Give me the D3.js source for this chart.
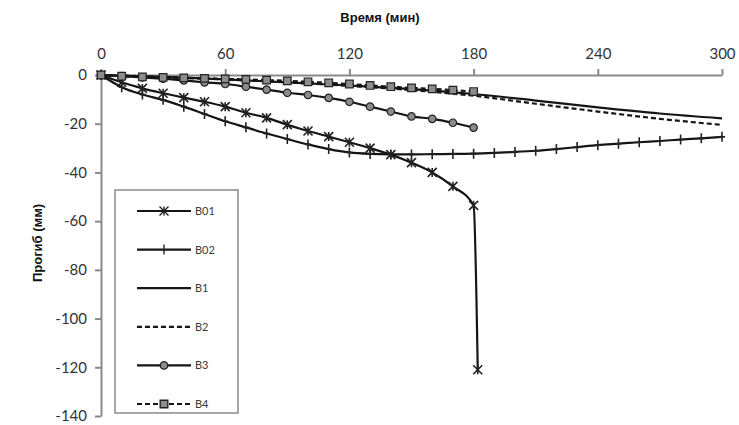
<!DOCTYPE html>
<html>
<head>
<meta charset="utf-8">
<style>
    body { margin: 0; background: #fff; }
    .tick text { font-family: Lato, "Open Sans", sans-serif; font-size: 15px; fill: #333; }
    .axis path, .axis line { stroke: #8a8a8a; stroke-width: 2; }
    .title { font-family: "Liberation Sans", Arial, sans-serif; font-size: 13px; font-weight: bold; fill: #111; }
    .legend text { font-family: Lato, "Open Sans", sans-serif; font-size: 11px; fill: #3a3a3a; }
</style>
</head>
<body>
<svg width="739" height="425"></svg>
<script src="https://d3js.org/d3.v7.min.js"></script>
<script>
// time steps (min)
var t10 = d3.range(0, 190, 10);               // 0..180
var t10long = d3.range(0, 310, 10);           // 0..300
var t30 = d3.range(0, 310, 30);               // 0..300

var xTicks = [0, 60, 120, 180, 240, 300];
var yTicks = [0, -20, -40, -60, -80, -100, -120, -140];

// series values (mm)
var b01Time = t10.concat([182]);
var b01 = [0, -3, -5.5, -7.5, -9.3, -11, -13, -15.5, -17.6, -20.4, -23, -25.3, -27.6, -30, -32.7, -36, -40, -45.7, -53.5, -121];
var b02 = [0, -5, -8, -10.2, -13, -16, -19, -21.5, -24, -26.3, -28.5, -30.4, -31.8, -32.4, -32.6, -32.6, -32.5, -32.4, -32.3,
           -32, -31.6, -31.1, -30.4, -29.6, -28.8, -28.2, -27.6, -27.1, -26.5, -26, -25.4];
var b1 = [0, -0.8, -1.8, -3, -4.3, -5.8, -7.8, -10.5, -13.3, -15.8, -17.8];
var b2 = [0, -0.8, -1.8, -3, -4.5, -6.2, -8.5, -11.8, -15, -18, -20.5];
var b3 = [0, -0.5, -1, -1.5, -2.2, -3, -3.7, -4.8, -6, -7.3, -8.2, -9.4, -11, -13, -15, -17, -18, -19.6, -21.6];
var b4 = [0, -0.5, -0.8, -1, -1.2, -1.4, -1.6, -1.8, -2.1, -2.4, -2.8, -3.2, -3.7, -4.3, -4.8, -5.3, -5.7, -6.2, -6.8];

var svg = d3.select('svg'),
    margin = { top: 75, left: 101 },
    width = 621,
    height = 341;

var x = d3.scaleLinear().domain([0, 300]).range([0, width]);
var y = d3.scaleLinear().domain([0, -140]).range([0, height]);

var g = svg.append('g')
    .attr('transform', 'translate(' + margin.left + ',' + margin.top + ')');

g.append('g')
    .attr('class', 'axis')
    .call(d3.axisTop(x).tickValues(xTicks).tickSize(6).tickSizeOuter(0).tickPadding(10));

g.append('g')
    .attr('class', 'axis')
    .call(d3.axisLeft(y).tickValues(yTicks).tickSize(6).tickSizeOuter(0).tickPadding(8)
        .tickFormat(function (d) { return String(d); }));   // plain hyphen minus

svg.append('text')
    .attr('class', 'title')
    .attr('x', 380).attr('y', 22)
    .attr('text-anchor', 'middle')
    .text('Время (мин)');

svg.append('text')
    .attr('class', 'title')
    .attr('transform', 'translate(42,243) rotate(-90)')
    .attr('text-anchor', 'middle')
    .text('Прогиб (мм)');

// marker shapes
function markerPath(type, s) {
    if (type === 'star') {
        return 'M' + (-s) + ',' + (-s) + 'L' + s + ',' + s + 'M' + (-s) + ',' + s + 'L' + s + ',' + (-s) +
            'M0,' + (-s) + 'L0,' + s;
    }
    if (type === 'plus') {
        return 'M0,' + (-s) + 'L0,' + s + 'M' + (-s * 0.6) + ',0L' + (s * 0.6) + ',0';
    }
    if (type === 'circle') {
        return d3.symbol(d3.symbolCircle, s * s * 3.4)();
    }
    if (type === 'square') {
        return 'M' + (-s) + ',' + (-s) + 'h' + (2 * s) + 'v' + (2 * s) + 'h' + (-2 * s) + 'Z';
    }
    return '';
}

var series = [
    { name: 'B01', t: b01Time, v: b01, dash: null, marker: 'star', ms: 4.5 },
    { name: 'B02', t: t10long, v: b02, dash: null, marker: 'plus', ms: 5 },
    { name: 'B1', t: t30, v: b1, dash: null, marker: null },
    { name: 'B2', t: t30, v: b2, dash: '5,3', marker: null },
    { name: 'B3', t: t10, v: b3, dash: null, marker: 'circle', ms: 3.6 },
    { name: 'B4', t: t10, v: b4, dash: '5,3', marker: 'square', ms: 3.8 }
];

var line = d3.line()
    .x(function (d) { return x(d[0]); })
    .y(function (d) { return y(d[1]); })
    .curve(d3.curveMonotoneX);

series.forEach(function (s) {
    var pts = s.t.map(function (tt, i) { return [tt, s.v[i]]; });
    g.append('path')
        .datum(pts)
        .attr('fill', 'none')
        .attr('stroke', '#151515')
        .attr('stroke-width', 2.2)
        .attr('stroke-dasharray', s.dash)
        .attr('d', line);
    if (s.marker) {
        g.selectAll(null)
            .data(pts)
            .enter()
            .append('path')
            .attr('transform', function (d) { return 'translate(' + x(d[0]) + ',' + y(d[1]) + ')'; })
            .attr('d', markerPath(s.marker, s.ms))
            .attr('fill', '#8c8c8c')
            .attr('stroke', '#222')
            .attr('stroke-width', s.marker === 'star' || s.marker === 'plus' ? 1.6 : 1.2);
    }
});

// legend
var legend = svg.append('g').attr('class', 'legend');
legend.append('rect')
    .attr('x', 115).attr('y', 190)
    .attr('width', 123).attr('height', 223)
    .attr('fill', '#fff')
    .attr('stroke', '#8a8a8a')
    .attr('stroke-width', 1.5);

series.forEach(function (s, i) {
    var ly = 211 + i * 38.6;
    legend.append('line')
        .attr('x1', 137).attr('x2', 191)
        .attr('y1', ly).attr('y2', ly)
        .attr('stroke', '#151515')
        .attr('stroke-width', 2.2)
        .attr('stroke-dasharray', s.dash);
    if (s.marker) {
        legend.append('path')
            .attr('transform', 'translate(164,' + ly + ')')
            .attr('d', markerPath(s.marker, s.ms))
            .attr('fill', '#8c8c8c')
            .attr('stroke', '#222')
            .attr('stroke-width', 1.4);
    }
    legend.append('text')
        .attr('x', 195).attr('y', ly + 4)
        .text(s.name);
});
</script>
</body>
</html>
